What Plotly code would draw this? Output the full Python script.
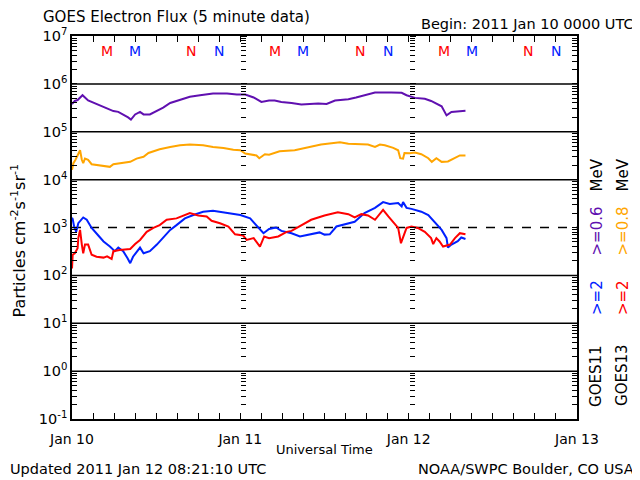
import pandas as pd
import plotly.graph_objects as go

# ---------------- data ----------------
BEGIN = "2011-01-10 00:00"

g11_hi_hours = [0, 0.4, 0.8, 1.5, 2.3, 3.5, 4.5, 5.9, 6.6, 7.3, 8.0, 8.4, 9.0, 9.7, 10.2, 11.1,
                12.1, 13.0, 14.0, 15.4, 16.8, 18.25, 20.1, 22.1, 23.5, 24.7, 25.9, 27.0, 28.1,
                28.9, 29.85, 31.3, 32.7, 35.1, 36.3, 37.5, 39.4, 40.5, 42.2, 43.2, 45.5, 47.0,
                47.7, 48.9, 50.3, 51.2, 52.7, 53.4, 54.1, 55.3, 56.1]
g11_hi_flux = [3.8e5, 4.4e5, 4.6e5, 5.8e5, 4.5e5, 3.8e5, 3.2e5, 2.7e5, 2.6e5, 2.3e5, 2.0e5, 1.8e5,
               2.3e5, 2.6e5, 2.3e5, 2.3e5, 2.7e5, 3.2e5, 4.0e5, 4.7e5, 5.4e5, 5.8e5, 6.3e5, 6.3e5,
               6.0e5, 6.0e5, 5.2e5, 4.2e5, 4.5e5, 4.5e5, 4.2e5, 4.0e5, 3.7e5, 3.9e5, 3.8e5, 4.5e5,
               4.8e5, 5.2e5, 6.0e5, 6.6e5, 6.6e5, 6.5e5, 5.8e5, 5.1e5, 4.9e5, 4.4e5, 3.4e5, 2.2e5,
               2.6e5, 2.7e5, 2.75e5]

g13_hi_hours = [0, 0.2, 0.5, 0.9, 1.15, 1.4, 1.6, 1.85, 2.3, 2.8, 4.0, 5.4, 5.9, 6.8, 8.3, 9.2,
                10.2, 10.9, 12.5, 14.0, 15.4, 16.8, 18.7, 20.1, 21.6, 23.0, 24.0, 24.7, 25.4,
                26.3, 26.7, 27.5, 28.1, 29.6, 31.75, 33.65, 35.5, 38.2, 39.4, 42.2, 43.2, 43.9,
                44.6, 45.8, 46.5, 46.8, 47.2, 47.4, 48.15, 48.9, 49.8, 50.8, 51.3, 51.95, 52.7,
                53.6, 54.6, 55.3, 56.1]
g13_hi_flux = [1.6e4, 2.2e4, 2.6e4, 3.3e4, 4.1e4, 2.6e4, 2.2e4, 2.75e4, 2.6e4, 2.1e4, 1.95e4,
               1.85e4, 2.1e4, 2.2e4, 2.35e4, 2.75e4, 3.0e4, 3.6e4, 4.3e4, 4.8e4, 5.2e4, 5.4e4,
               5.2e4, 4.8e4, 4.6e4, 4.2e4, 4.1e4, 3.5e4, 3.4e4, 3.2e4, 2.8e4, 3.4e4, 3.3e4, 3.9e4,
               4.1e4, 4.8e4, 5.4e4, 6.0e4, 5.6e4, 5.4e4, 4.8e4, 5.4e4, 5.2e4, 4.6e4, 4.1e4, 2.8e4,
               2.75e4, 3.6e4, 3.55e4, 3.7e4, 3.4e4, 2.8e4, 2.35e4, 2.8e4, 2.35e4, 2.4e4, 2.8e4,
               3.2e4, 3.2e4]

g11_2mev_hours = [0, 0.1, 0.3, 0.6, 0.9, 1.6, 2.1, 2.8, 3.75, 4.5, 5.4, 6.1, 6.6, 7.3, 7.9, 8.3,
                  8.7, 9.7, 10.2, 11.1, 12.1, 13.0, 14.0, 14.9, 16.1, 17.3, 18.7, 20.1, 22.1,
                  24.0, 25.4, 26.6, 27.3, 28.1, 29.1, 29.85, 31.3, 32.5, 34.1, 35.3, 36.0, 36.75,
                  37.7, 38.9, 40.3, 41.7, 43.2, 44.35, 45.3, 46.5, 47.0, 47.2, 47.7, 48.4, 49.8,
                  50.8, 51.7, 52.7, 53.4, 53.6, 54.1, 55.0, 55.5, 56.1]
g11_2mev_flux = [1600, 1500, 1050, 810, 1230, 1620, 1450, 980, 680, 510, 400, 320, 380, 320, 230,
                 180, 245, 380, 290, 320, 440, 600, 890, 1120, 1550, 1820, 2140, 2240, 2000, 1820,
                 1550, 980, 760, 930, 1000, 850, 760, 650, 720, 790, 710, 720, 1050, 1170, 1320,
                 2000, 2570, 3390, 3090, 3240, 2750, 3390, 2570, 2450, 2140, 1820, 1320, 890, 600,
                 380, 440, 520, 620, 575]

g13_2mev_hours = [0, 0.1, 0.4, 0.8, 0.9, 1.15, 1.4, 1.6, 1.85, 2.3, 2.8, 3.5, 4.5, 5.0, 5.65,
                  5.9, 6.8, 8.3, 9.0, 9.7, 10.65, 11.6, 12.5, 13.5, 14.9, 16.1, 16.8, 18.0, 19.2,
                  19.9, 21.1, 22.3, 23.25, 24.4, 24.9, 25.9, 26.8, 27.4, 28.1, 29.4, 30.6, 31.3,
                  32.7, 34.1, 36.0, 37.9, 39.4, 40.3, 41.25, 42.2, 43.2, 43.9, 44.35, 45.1, 46.0,
                  46.5, 46.9, 47.2, 47.7, 48.4, 49.3, 50.3, 51.2, 51.5, 51.95, 52.4, 52.9, 53.9,
                  54.6, 55.3, 56.1]
g13_2mev_flux = [140, 270, 290, 370, 600, 890, 440, 290, 440, 440, 270, 245, 235, 250, 220, 320,
                 340, 355, 450, 550, 810, 980, 1120, 1450, 1550, 1780, 2000, 1780, 1700, 1380,
                 1230, 1050, 720, 680, 550, 600, 400, 650, 600, 650, 810, 850, 1120, 1450, 1780,
                 2090, 1900, 1620, 1900, 1780, 1450, 2000, 2340, 1700, 1230, 980, 470, 600, 980,
                 1050, 980, 810, 600, 450, 600, 510, 400, 440, 600, 760, 720]

# local midnight (M) / noon (N) markers for GOES-13 (red) and GOES-11 (blue)
mn_hours = [5, 9, 17, 21, 29, 33, 41, 45, 53, 57, 65, 69]
mn_letters = ["M", "M", "N", "N", "M", "M", "N", "N", "M", "M", "N", "N"]
mn_colors = ["#ff0000", "#0020ff"] * 6

y_tick_exps = [-1, 0, 1, 2, 3, 4, 5, 6, 7]
day_ticks = ["2011-01-10", "2011-01-11", "2011-01-12", "2011-01-13"]

# ---------------- figure ----------------
PURPLE = "#6010b0"
ORANGE = "#ffa500"
BLUE = "#0020ff"
RED = "#ff0000"
FONT = "DejaVu Sans"

base = pd.Timestamp(BEGIN)


def tx(hours):
    return base + pd.to_timedelta(hours, unit="h")


fig = go.Figure()
for hrs, vals, col in [(g11_hi_hours, g11_hi_flux, PURPLE),
                       (g13_hi_hours, g13_hi_flux, ORANGE),
                       (g11_2mev_hours, g11_2mev_flux, BLUE),
                       (g13_2mev_hours, g13_2mev_flux, RED)]:
    fig.add_trace(go.Scatter(x=tx(hrs), y=vals, mode="lines",
                             line=dict(color=col, width=2), showlegend=False,
                             hoverinfo="skip"))

minor_vals = [m * 10 ** e for e in range(-1, 7) for m in range(2, 10)]

# the page body has an 8px margin, so the figure is 8px smaller and offset
fig.update_layout(
    width=632, height=472,
    margin=dict(l=64, r=63, t=28, b=61),
    paper_bgcolor="white", plot_bgcolor="white",
    font=dict(family=FONT, color="black", size=15),
    showlegend=False,
    xaxis=dict(
        type="date", range=[day_ticks[0], day_ticks[-1]],
        tickvals=day_ticks, ticktext=["Jan 10", "Jan 11", "Jan 12", "Jan 13"],
        ticks="inside", ticklen=6, tickcolor="black",
        showline=True, linecolor="black", linewidth=1.5, mirror="ticks",
        showgrid=False, zeroline=False,
        tickfont=dict(size=14), ticklabelstandoff=6,
        minor=dict(dtick=3 * 3600 * 1000, ticks="inside", ticklen=6, tickcolor="black",
                   showgrid=False),
    ),
    yaxis=dict(
        type="log", range=[-1, 7],
        tickvals=[10 ** e for e in y_tick_exps],
        ticktext=[f"10<sup>{e}</sup>" for e in y_tick_exps],
        ticks="inside", ticklen=5, tickcolor="black",
        showline=True, linecolor="black", linewidth=1.5, mirror="ticks",
        showgrid=False, zeroline=False, tickfont=dict(size=14.5),
        minor=dict(tickmode="array", tickvals=minor_vals, ticks="inside", ticklen=5,
                   tickcolor="black", showgrid=False),
    ),
)

# tick columns on the day boundaries (Jan 11, Jan 12)
for name, pos in [("yaxis2", 1 / 3), ("yaxis3", 2 / 3)]:
    fig.update_layout({name: dict(
        type="log", range=[-1, 7], overlaying="y", anchor="free", position=pos,
        side="right", showline=False, showgrid=False, zeroline=False,
        showticklabels=False, ticks="outside", ticklen=6, tickcolor="black",
        tickvals=[10 ** e for e in y_tick_exps],
        minor=dict(tickmode="array", tickvals=minor_vals, ticks="outside", ticklen=5,
                   tickcolor="black"),
    )})
fig.add_trace(go.Scatter(x=[None], y=[None], yaxis="y2", showlegend=False))
fig.add_trace(go.Scatter(x=[None], y=[None], yaxis="y3", showlegend=False))

# decade lines (dashed at 10^3)
for e in range(0, 7):
    yp = (e + 1) / 8
    fig.add_shape(type="line", xref="paper", yref="paper", x0=0, x1=1, y0=yp, y1=yp,
                  line=dict(color="black", width=1.5, dash="dash" if e == 3 else "solid"),
                  layer="below")

ann = []
for h, letter, col in zip(mn_hours, mn_letters, mn_colors):
    ann.append(dict(x=tx(h), y=0.9608, xref="x", yref="paper", text=letter,
                    showarrow=False, font=dict(color=col, size=14),
                    xanchor="center", yanchor="middle"))

ann += [
    dict(x=-0.0614, y=1.05, text="GOES Electron Flux (5 minute data)", xanchor="left",
         font=dict(size=15)),
    dict(x=1.1168, y=1.0313, text="Begin: 2011 Jan 10 0000 UTC", xanchor="right",
         font=dict(size=14.5)),
    dict(x=-0.1267, y=-0.1305, text="Updated 2011 Jan 12 08:21:10 UTC", xanchor="left",
         font=dict(size=14.5)),
    dict(x=1.1168, y=-0.1305, text="NOAA/SWPC Boulder, CO USA", xanchor="right",
         font=dict(size=14.5)),
    dict(x=0.5, y=-0.0796, text="Universal Time", xanchor="center", font=dict(size=13)),
    dict(x=-0.104, y=0.4674, text="Particles cm<sup>-2</sup>s<sup>-1</sup>sr<sup>-1</sup>",
         textangle=-90, xanchor="center", font=dict(size=16)),
]
for xc, items in [(1.0386, [("GOES11", "black"), (">=2", BLUE), (">=0.6", PURPLE), ("MeV", "black")]),
                  (1.0901, [("GOES13", "black"), (">=2", RED), (">=0.8", ORANGE), ("MeV", "black")])]:
    for (txt, col), yc in zip(items, [0.1136, 0.3172, 0.4909, 0.6371]):
        ann.append(dict(x=xc, y=yc, text=txt, textangle=-90, font=dict(color=col, size=15),
                        xanchor="center"))

for a in ann:
    a.setdefault("xref", "paper")
    a.setdefault("yref", "paper")
    a.setdefault("showarrow", False)
    a.setdefault("yanchor", "middle")
fig.update_layout(annotations=ann)

fig.write_html("out.html")
